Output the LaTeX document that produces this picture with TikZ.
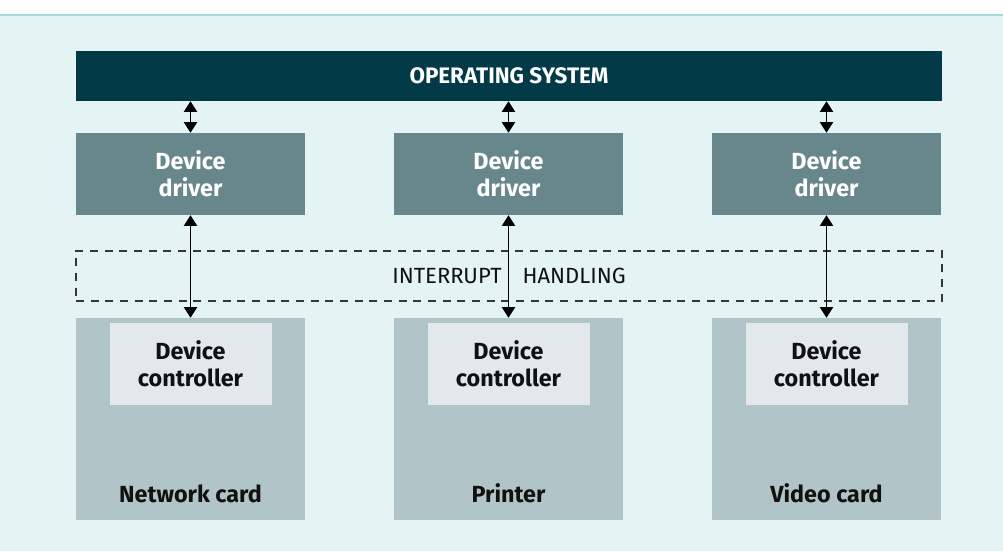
\documentclass[tikz,border=0pt]{standalone}
\usepackage{fontspec}
\setmainfont{Fira Sans}
\newcommand\medfont{\bfseries}
\usetikzlibrary{arrows.meta}

\definecolor{pagebg}{HTML}{E4F3F3}
\definecolor{rulecol}{HTML}{A3DAD6}
\definecolor{oscol}{HTML}{023A47}
\definecolor{drvcol}{HTML}{68878C}
\definecolor{cardcol}{HTML}{B1C4C8}
\definecolor{ctrlcol}{HTML}{E3E8EA}
\definecolor{inkcol}{HTML}{111111}

\tikzset{
  x=0.75pt, y=-0.75pt,
  osbox/.style={fill=oscol, text=white, font=\medfont\fontsize{16.8}{18}\selectfont,
    minimum width=649.5pt, minimum height=37.5pt, inner sep=0pt},
  drvbox/.style={fill=drvcol, text=white, font=\medfont\fontsize{17.5}{20.25}\selectfont,
    align=center, minimum width=171.75pt, minimum height=61.5pt, inner sep=0pt},
  cardbox/.style={fill=cardcol, minimum width=171.75pt, minimum height=151.5pt, inner sep=0pt},
  ctrlbox/.style={fill=ctrlcol, text=inkcol, font=\medfont\fontsize{17.5}{20.25}\selectfont,
    align=center, minimum width=121.5pt, minimum height=61.5pt, inner sep=0pt},
  cardlabel/.style={text=inkcol, font=\medfont\fontsize{17.5}{20}\selectfont, anchor=base, inner sep=0pt},
  irqbox/.style={draw=inkcol!85, dash pattern=on 6pt off 5pt, line width=0.8pt,
    minimum width=649.5pt, minimum height=37.5pt, inner sep=0pt},
  irqlabel/.style={text=inkcol, font=\fontsize{16.5}{18}\selectfont, inner sep=0pt},
  link/.style={line width=0.9pt, draw=black, {Triangle[width=10pt,length=8pt]}-{Triangle[width=10pt,length=8pt]}},
}

\begin{document}
\begin{tikzpicture}
  % page background with the thin rule along its top
  \useasboundingbox (0,0) rectangle (1003,551);
  \fill[white] (0,0) rectangle (1003,15);
  \fill[pagebg] (0,15) rectangle (1003,551);
  \draw[rulecol, line width=1.1pt] (0,15) -- (1003,15);

  % operating system bar
  \node[osbox] (os) at (509,76) {OPERATING SYSTEM};

  % interrupt handling layer
  \node[irqbox] (irq) at (509,276) {};
  \node[irqlabel] (irqtxt) at (509,276) {INTERRUPT\hspace{0.95em}HANDLING};

  % three device columns
  \foreach \i/\cx/\lbl in {1/190.5/Network card, 2/508.5/Printer, 3/826.5/Video card}{
    \node[drvbox]  (drv\i)  at (\cx,174) {Device\\driver};
    \node[cardbox] (card\i) at (\cx,419) {};
    \node[ctrlbox] (ctrl\i) at (\cx,364) {Device\\controller};
    \node[cardlabel] (lab\i) at (\cx,502) {\lbl};
    \draw[link] (os.south -| drv\i.north) -- (drv\i.north);
    \draw[link] (drv\i.south) -- (card\i.north);
  }
\end{tikzpicture}
\end{document}
